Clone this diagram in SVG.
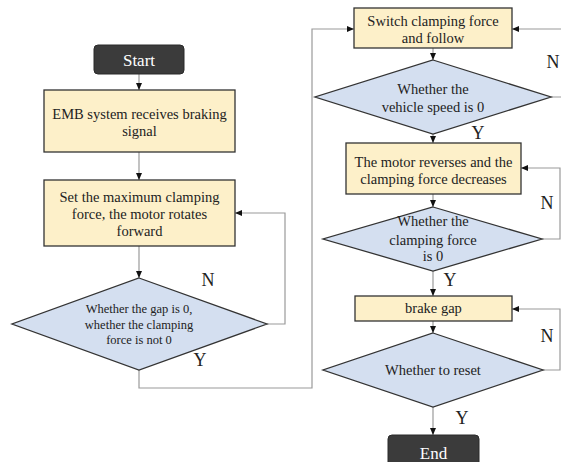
<svg xmlns="http://www.w3.org/2000/svg" width="561" height="462" viewBox="0 0 561 462">
<defs>
<marker id="ah" markerWidth="8" markerHeight="8" refX="7" refY="4" orient="auto" markerUnits="userSpaceOnUse">
<path d="M0,1 L7,4 L0,7 Z" fill="#111"/>
</marker>
<style>
.term{fill:#3b3b3b;stroke:#2a2a2a;stroke-width:1}
.box{fill:#fdf0c9;stroke:#333;stroke-width:1.3}
.dia{fill:#d4dff0;stroke:#333;stroke-width:1.3}
.t{font-family:"Liberation Serif","Times New Roman",serif;font-size:14.5px;fill:#222;text-anchor:middle}
.ts{font-family:"Liberation Serif","Times New Roman",serif;font-size:12.5px;fill:#222;text-anchor:middle}
.tw{font-family:"Liberation Serif","Times New Roman",serif;font-size:17px;fill:#fff;text-anchor:middle}
.lb{font-family:"Liberation Serif","Times New Roman",serif;font-size:18px;fill:#222;text-anchor:middle}
.c{fill:none;stroke:#9a9a9a;stroke-width:1.2}
</style>
</defs>
<rect width="561" height="462" fill="#fff"/>
<g id="connectors">
<path class="c" d="M139,74 V90" marker-end="url(#ah)"/>
<path class="c" d="M139,152 V180" marker-end="url(#ah)"/>
<path class="c" d="M139,246 V278" marker-end="url(#ah)"/>
<path class="c" d="M267,324 H285 V213 H235" marker-end="url(#ah)"/>
<path class="c" d="M139,370 V388 H312 V29 H354" marker-end="url(#ah)"/>
<path class="c" d="M433,48 V60" marker-end="url(#ah)"/>
<path class="c" d="M551,97 H570 V29 H512" marker-end="url(#ah)"/>
<path class="c" d="M433,134 V143" marker-end="url(#ah)"/>
<path class="c" d="M433,194 V207" marker-end="url(#ah)"/>
<path class="c" d="M542,239 H560 V168 H521" marker-end="url(#ah)"/>
<path class="c" d="M433,271 V296" marker-end="url(#ah)"/>
<path class="c" d="M433,321 V333" marker-end="url(#ah)"/>
<path class="c" d="M543,370 H560 V309 H512" marker-end="url(#ah)"/>
<path class="c" d="M433,407 V435" marker-end="url(#ah)"/>
<text class="lb" x="208" y="286">N</text>
<text class="lb" x="200" y="366">Y</text>
<text class="lb" x="553" y="68">N</text>
<text class="lb" x="478" y="139">Y</text>
<text class="lb" x="547" y="209">N</text>
<text class="lb" x="450" y="286">Y</text>
<text class="lb" x="547" y="342">N</text>
<text class="lb" x="462" y="424">Y</text>
</g>
<g id="start">
<rect class="term" x="94" y="45" width="90" height="29" rx="4"/>
<text class="tw" x="139" y="65.5">Start</text>
</g>
<g id="emb">
<rect class="box" x="44" y="90" width="191" height="62"/>
<text class="t" x="139.5" y="119">EMB system receives braking</text>
<text class="t" x="139.5" y="136">signal</text>
</g>
<g id="setmax">
<rect class="box" x="44" y="180" width="191" height="66"/>
<text class="t" x="139.5" y="202">Set the maximum clamping</text>
<text class="t" x="139.5" y="219">force, the motor rotates</text>
<text class="t" x="139.5" y="236">forward</text>
</g>
<g id="d1">
<polygon class="dia" points="139,278 267,324 139,370 12,324"/>
<text class="ts" x="139" y="313">Whether the gap is 0,</text>
<text class="ts" x="139" y="329">whether the clamping</text>
<text class="ts" x="139" y="344">force is not 0</text>
</g>
<g id="switch">
<rect class="box" x="354" y="8" width="158" height="40"/>
<text class="t" x="433" y="26">Switch clamping force</text>
<text class="t" x="433" y="43">and follow</text>
</g>
<g id="d2">
<polygon class="dia" points="433,60 551,97 433,134 315,97"/>
<text class="t" x="433" y="94">Whether the</text>
<text class="t" x="433" y="112">vehicle speed is 0</text>
</g>
<g id="reverse">
<rect class="box" x="346" y="143" width="175" height="51"/>
<text class="t" x="433.5" y="167">The motor reverses and the</text>
<text class="t" x="433.5" y="184">clamping force decreases</text>
</g>
<g id="d3">
<polygon class="dia" points="433,207 542,239 433,271 323,239"/>
<text class="t" x="433" y="226">Whether the</text>
<text class="t" x="433" y="245">clamping force</text>
<text class="t" x="433" y="261">is 0</text>
</g>
<g id="brakegap">
<rect class="box" x="355" y="296" width="157" height="25"/>
<text class="t" x="433.5" y="313">brake gap</text>
</g>
<g id="d4">
<polygon class="dia" points="433,333 543,370 433,407 323,370"/>
<text class="t" x="433" y="375">Whether to reset</text>
</g>
<g id="end">
<rect class="term" x="388" y="435" width="91" height="34" rx="4"/>
<text class="tw" x="433.5" y="459">End</text>
</g>
</svg>
